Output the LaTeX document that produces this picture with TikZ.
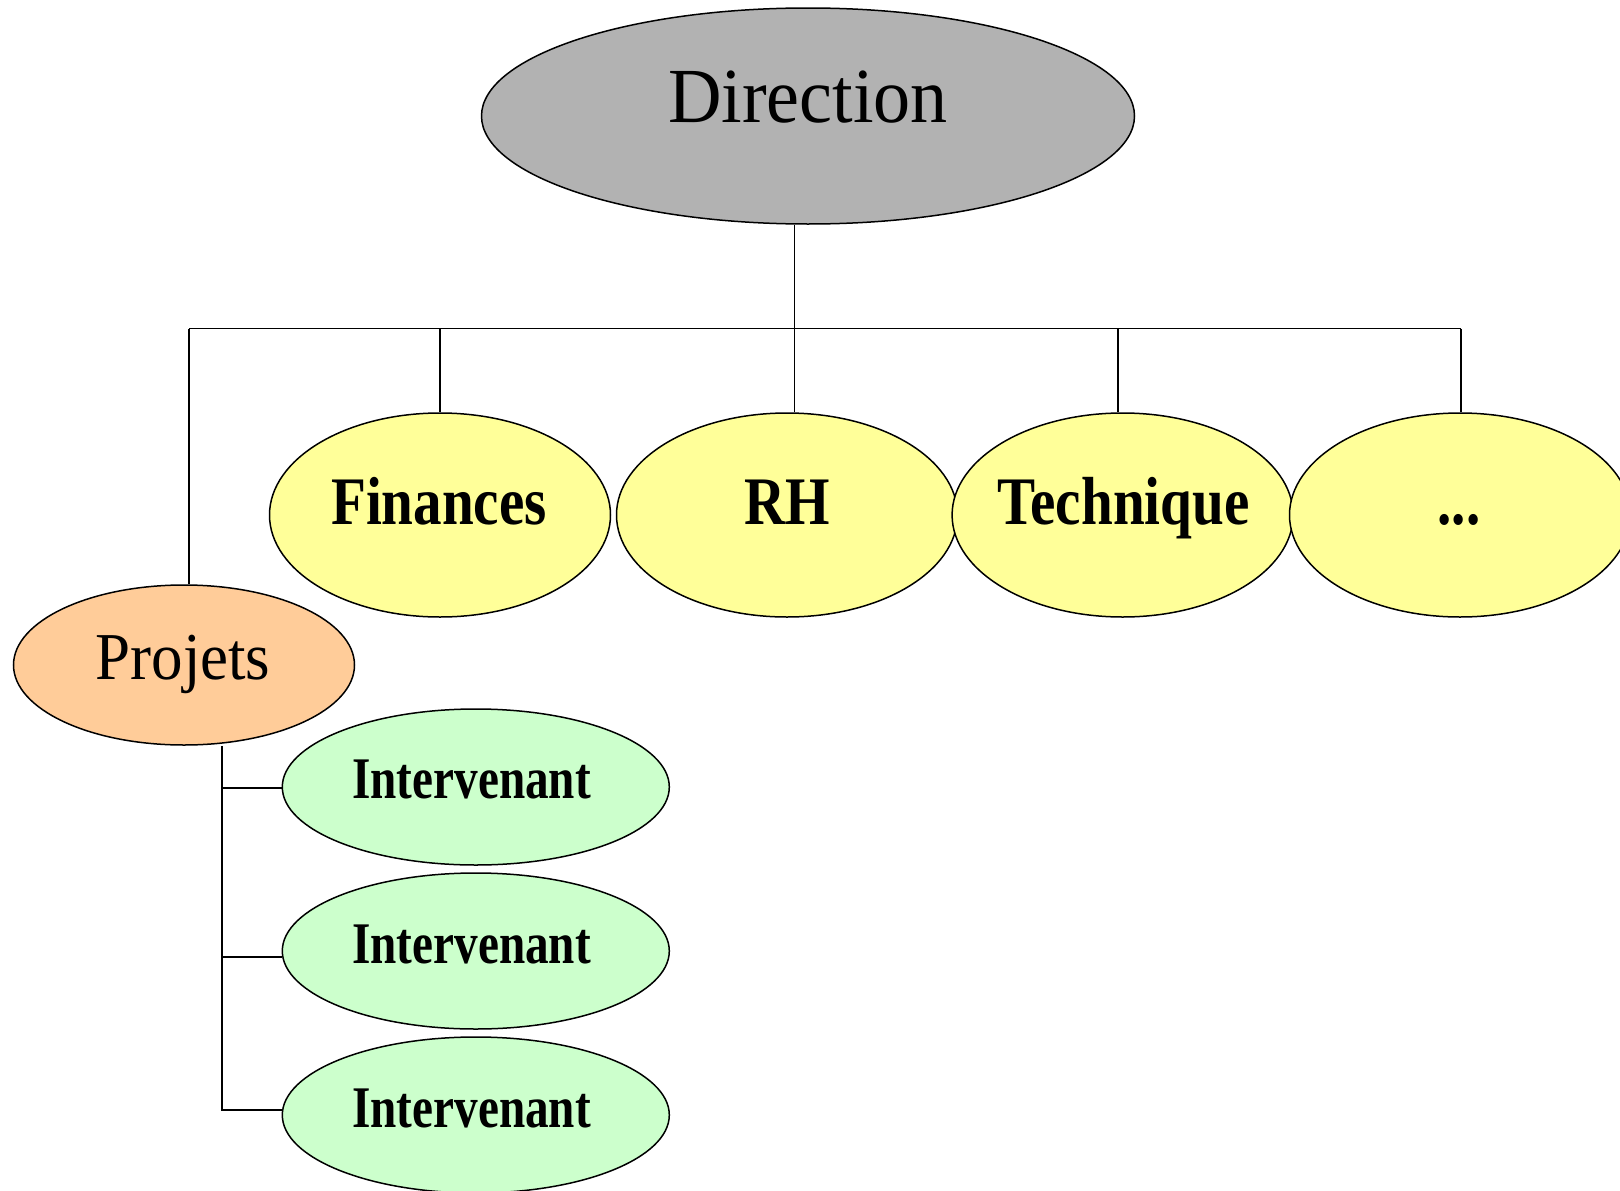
\documentclass[tikz,border=0pt]{standalone}
\usepackage{fontspec}
\setmainfont{Liberation Serif}
\usepackage{graphicx}
\usetikzlibrary{shapes.geometric}
\definecolor{dirgray}{HTML}{B2B2B2}
\definecolor{deptyellow}{HTML}{FFFF99}
\definecolor{projorange}{HTML}{FFCC99}
\definecolor{intgreen}{HTML}{CCFFCC}
\tikzset{
  oval/.style={ellipse, draw=black, line width=1.5pt, inner sep=0pt},
  dirbox/.style={oval, fill=dirgray, minimum width=653pt, minimum height=216pt},
  deptbox/.style={oval, fill=deptyellow, minimum width=341pt, minimum height=204pt},
  projbox/.style={oval, fill=projorange, minimum width=341pt, minimum height=160pt},
  intbox/.style={oval, fill=intgreen, minimum width=387pt, minimum height=156pt},
  lbl/.style={anchor=base, inner sep=0pt},
  link/.style={line width=1.5pt, draw=black},
}
\newcommand{\dirfont}[1]{\scalebox{0.95}[1]{\fontsize{78}{80}\selectfont #1}}
\newcommand{\deptfont}[1]{\scalebox{0.84}[1]{\fontsize{68}{70}\selectfont\bfseries #1}}
\newcommand{\projfont}[1]{\scalebox{0.94}[1]{\fontsize{67}{70}\selectfont #1}}
\newcommand{\intfont}[1]{\scalebox{0.80}[1]{\fontsize{59}{60}\selectfont\bfseries #1}}
\begin{document}
\begin{tikzpicture}[x=1pt,y=-1pt]
\useasboundingbox (0,0) rectangle (1620,1191);
% ovals
\node[dirbox] (dir) at (808,116) {};
\node[deptbox] (fin) at (440,515) {};
\node[deptbox] (rh) at (787,515) {};
\node[deptbox] (tech) at (1122.6,515) {};
\node[deptbox] (etc) at (1460,515) {};
\node[projbox] (proj) at (184,665) {};
\node[intbox] (int1) at (475.8,787) {};
\node[intbox] (int2) at (475.8,951) {};
\node[intbox] (int3) at (475.8,1115) {};
% labels
\node[lbl] (dirT) at (808,122) {\dirfont{Direction}};
\node[lbl] (finT) at (439,524) {\deptfont{Finances}};
\node[lbl] (rhT) at (787,524) {\deptfont{RH}};
\node[lbl] (techT) at (1123.6,524) {\deptfont{Technique}};
\node[lbl] (etcT) at (1459,524) {\deptfont{...}};
\node[lbl] (projT) at (183,679) {\projfont{Projets}};
\node[lbl] (int1T) at (471.6,798.6) {\intfont{Intervenant}};
\node[lbl] (int2T) at (471.6,963) {\intfont{Intervenant}};
\node[lbl] (int3T) at (471.6,1127) {\intfont{Intervenant}};
% connectors
\coordinate (bar) at (794.5,328.5);
\coordinate (barL) at (189,328.5);
\coordinate (barR) at (1461,328.5);
\coordinate (techX) at (1118,328.5);
\coordinate (b1) at (222,788);
\coordinate (b2) at (222,957);
\coordinate (b3) at (222,1110);
\draw[link] (dir.south -| bar) -- (bar);
\draw[link] (barL) -- (barR);
\draw[link] (barL) -- (proj.north -| barL);
\draw[link] (fin.north |- bar) -- (fin.north);
\draw[link] (bar) -- (rh.north -| bar);
\draw[link] (techX) -- (tech.north -| techX);
\draw[link] (barR) -- (etc.north -| barR);
\draw[link] (proj.south -| b3) -- (b3) -- (int3.west |- b3);
\draw[link] (b1) -- (int1.west |- b1);
\draw[link] (b2) -- (int2.west |- b2);
\end{tikzpicture}
\end{document}
